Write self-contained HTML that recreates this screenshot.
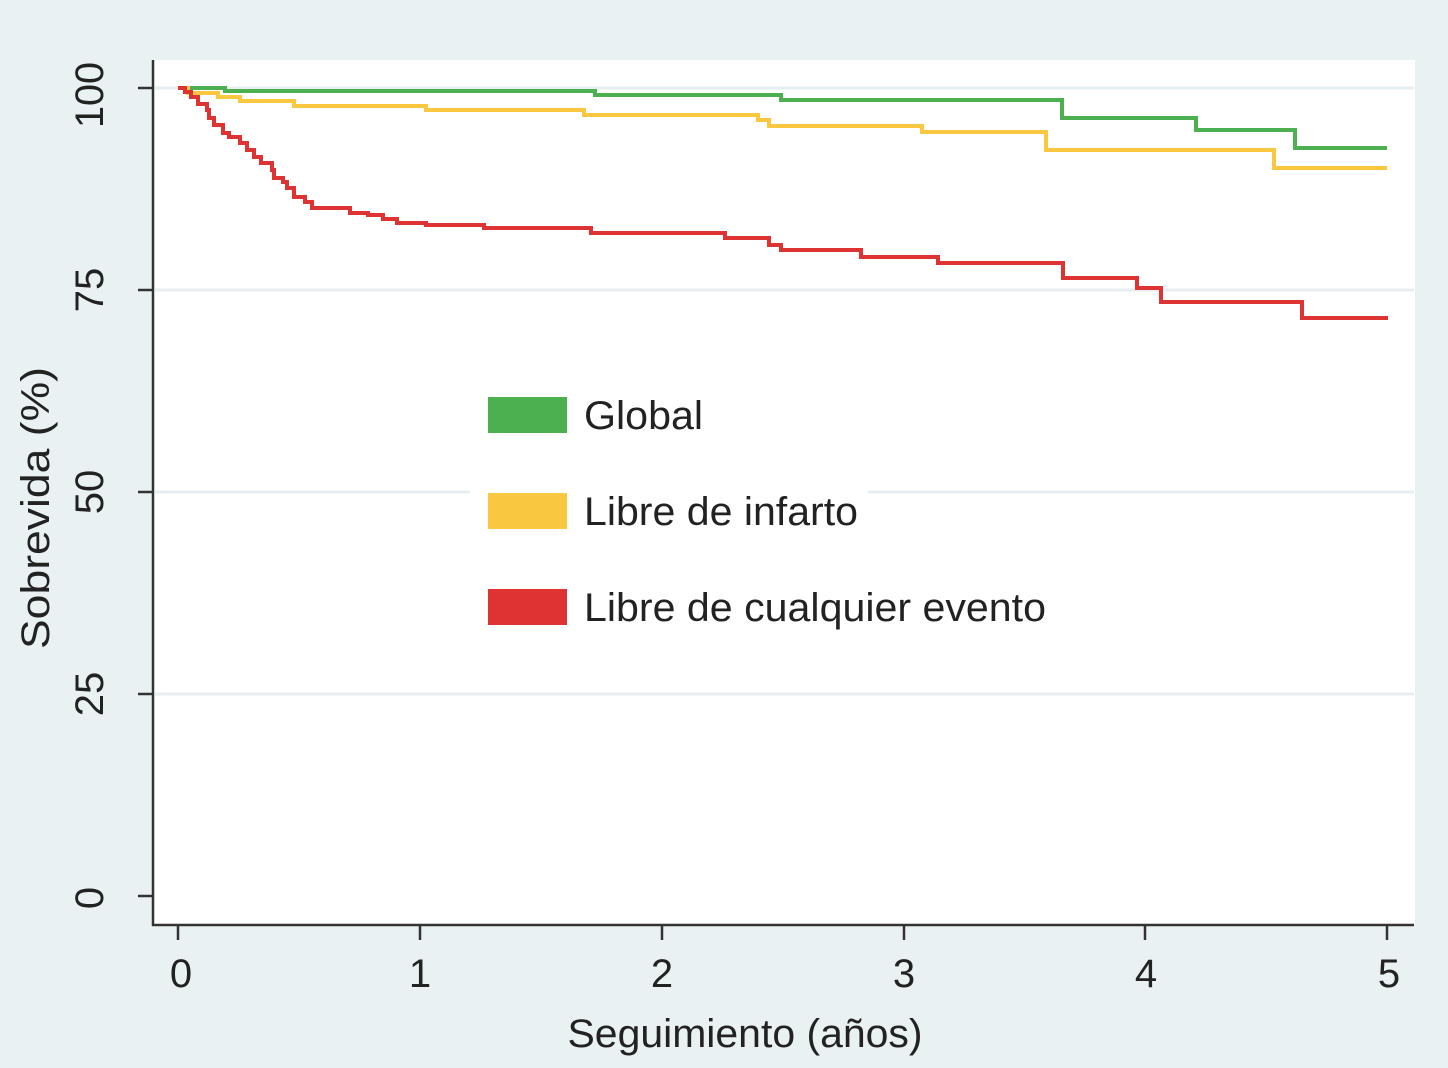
<!DOCTYPE html>
<html><head><meta charset="utf-8"><style>
html,body{margin:0;padding:0;background:#eaf1f3;}
svg{display:block;font-family:"Liberation Sans",Arial,sans-serif;}
</style></head><body>
<svg width="1448" height="1068" viewBox="0 0 1448 1068" xmlns="http://www.w3.org/2000/svg">
<rect width="1448" height="1068" fill="#eaf1f3"/>
<rect x="153" y="60" width="1262" height="865" fill="#ffffff"/>
<g stroke="#e6eef1" stroke-width="3">
<line x1="155" y1="88" x2="1414" y2="88"/>
<line x1="155" y1="290" x2="1414" y2="290"/>
<line x1="155" y1="492" x2="1414" y2="492"/>
<line x1="155" y1="694" x2="1414" y2="694"/>
</g>
<g stroke="#333" stroke-width="2.5" fill="none">
<line x1="153" y1="60" x2="153" y2="926"/>
<line x1="152" y1="925" x2="1414" y2="925"/>
<line x1="138" y1="88" x2="153" y2="88"/>
<line x1="138" y1="290" x2="153" y2="290"/>
<line x1="138" y1="492" x2="153" y2="492"/>
<line x1="138" y1="694" x2="153" y2="694"/>
<line x1="138" y1="896" x2="153" y2="896"/>
<line x1="178" y1="925" x2="178" y2="940"/>
<line x1="420" y1="925" x2="420" y2="940"/>
<line x1="662" y1="925" x2="662" y2="940"/>
<line x1="904" y1="925" x2="904" y2="940"/>
<line x1="1145" y1="925" x2="1145" y2="940"/>
<line x1="1387" y1="925" x2="1387" y2="940"/>
</g>
<g font-size="40" fill="#222" text-anchor="middle">
<text transform="translate(103,95) rotate(-90)" textLength="66" lengthAdjust="spacingAndGlyphs">100</text>
<text transform="translate(103,290) rotate(-90)">75</text>
<text transform="translate(103,492) rotate(-90)">50</text>
<text transform="translate(103,694) rotate(-90)">25</text>
<text transform="translate(103,898) rotate(-90)">0</text>
<text x="181" y="987">0</text>
<text x="420" y="987">1</text>
<text x="662" y="987">2</text>
<text x="904" y="987">3</text>
<text x="1146" y="987">4</text>
<text x="1389" y="987">5</text>
<text x="745" y="1047" textLength="355" lengthAdjust="spacingAndGlyphs">Seguimiento (años)</text>
<text transform="translate(49,508) rotate(-90)" textLength="282" lengthAdjust="spacingAndGlyphs">Sobrevida (%)</text>
</g>
<g fill="none" stroke-width="4" stroke-linejoin="miter">
<polyline stroke="#4caf50" points="178,88 225,88 225,91 595,91 595,95 781,95 781,100 1062,100 1062,118 1196,118 1196,130 1295,130 1295,148 1387,148"/>
<polyline stroke="#f9c840" points="178,88 188,88 188,93 218,93 218,97 240,97 240,101 294,101 294,106 426,106 426,110 584,110 584,115 758,115 758,120 769,120 769,126 922,126 922,132 1046,132 1046,150 1274,150 1274,168 1387,168"/>
<polyline stroke="#dd3333" points="178,88 185,88 185,92 191,92 191,97 198,97 198,104 207,104 207,110 209,110 209,118 214,118 214,125 223,125 223,133 229,133 229,137 240,137 240,143 247,143 247,150 254,150 254,157 261,157 261,163 272,163 272,170 274,170 274,178 283,178 283,182 287,182 287,188 294,188 294,197 305,197 305,202 312,202 312,208 350,208 350,213 368,213 368,215 383,215 383,219 397,219 397,223 426,223 426,225 484,225 484,228 591,228 591,233 725,233 725,238 769,238 769,245 781,245 781,250 861,250 861,257 938,257 938,263 1063,263 1063,278 1137,278 1137,288 1161,288 1161,302 1302,302 1302,318 1388,318"/>
</g>
<rect x="470" y="382" width="398" height="256" fill="#ffffff"/>
<rect x="488" y="397" width="79" height="36" fill="#4caf50"/>
<rect x="488" y="493" width="79" height="36" fill="#f9c840"/>
<rect x="488" y="589" width="79" height="36" fill="#dd3333"/>
<g font-size="40" fill="#222">
<text x="584" y="429" textLength="119" lengthAdjust="spacingAndGlyphs">Global</text>
<text x="584" y="525" textLength="274" lengthAdjust="spacingAndGlyphs">Libre de infarto</text>
<text x="584" y="621" textLength="462" lengthAdjust="spacingAndGlyphs">Libre de cualquier evento</text>
</g>
</svg>
</body></html>
